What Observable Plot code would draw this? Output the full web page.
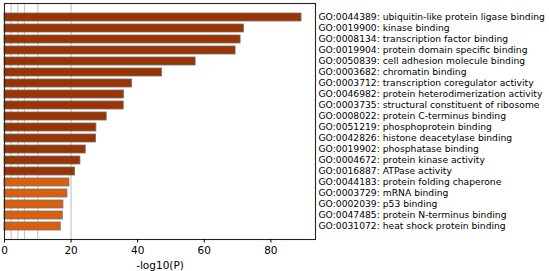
<!DOCTYPE html>
<html>
<head>
<meta charset="utf-8">
<script src="https://cdn.jsdelivr.net/npm/d3@7"></script>
<script src="https://cdn.jsdelivr.net/npm/@observablehq/plot@0.6"></script>
<style>
  html, body { margin: 0; padding: 0; background: #fff; }
  #chart svg { display: block; }
</style>
</head>
<body>
<div id="chart"></div>
<script>
const terms = [
  "GO:0044389: ubiquitin-like protein ligase binding",
  "GO:0019900: kinase binding",
  "GO:0008134: transcription factor binding",
  "GO:0019904: protein domain specific binding",
  "GO:0050839: cell adhesion molecule binding",
  "GO:0003682: chromatin binding",
  "GO:0003712: transcription coregulator activity",
  "GO:0046982: protein heterodimerization activity",
  "GO:0003735: structural constituent of ribosome",
  "GO:0008022: protein C-terminus binding",
  "GO:0051219: phosphoprotein binding",
  "GO:0042826: histone deacetylase binding",
  "GO:0019902: phosphatase binding",
  "GO:0004672: protein kinase activity",
  "GO:0016887: ATPase activity",
  "GO:0044183: protein folding chaperone",
  "GO:0003729: mRNA binding",
  "GO:0002039: p53 binding",
  "GO:0047485: protein N-terminus binding",
  "GO:0031072: heat shock protein binding"
];
const logP = [89.2, 71.9, 70.9, 69.4, 57.4, 47.3, 38.3, 35.9, 35.8, 30.7,
              27.6, 27.5, 24.4, 22.8, 21.2, 19.5, 18.9, 17.7, 17.5, 16.9];
const thresholds = [2, 4, 6, 10, 20];
const xTicks = [0, 20, 40, 60, 80];
const darkColor = "#993404";
const lightColor = "#d95f0e";

const data = terms.map((t, i) => ({term: t, value: logP[i], color: logP[i] > 20 ? darkColor : lightColor}));

const chart = Plot.plot({
  width: 549,
  height: 271,
  marginLeft: 4,
  marginRight: 234,
  marginTop: 3,
  marginBottom: 32,
  style: {fontFamily: "DejaVu Sans, sans-serif", fontSize: "10px", color: "#000", background: "#fff"},
  x: {domain: [0, 93.4]},
  y: {domain: terms, padding: 0.25, paddingOuter: 0.55, align: 0.55},
  marks: [
    Plot.ruleX(thresholds, {stroke: "#c8c8c8", strokeWidth: 1.2}),
    Plot.barX(data, {x: "value", y: "term", fill: "color", stroke: "#707070", strokeWidth: 0.8}),
    Plot.frame({stroke: "#222", strokeWidth: 1.1}),
    Plot.axisX({ticks: xTicks, tickSize: 3.5, tickPadding: 4, fontSize: 10.5, label: "-log10(P)", labelAnchor: "center", labelArrow: "none", labelOffset: 29}),
    Plot.axisY({anchor: "right", tickSize: 0, tickPadding: 3, fontSize: 9.2, label: null, textAnchor: "start"})
  ]
});
document.getElementById("chart").appendChild(chart);
</script>
</body>
</html>
